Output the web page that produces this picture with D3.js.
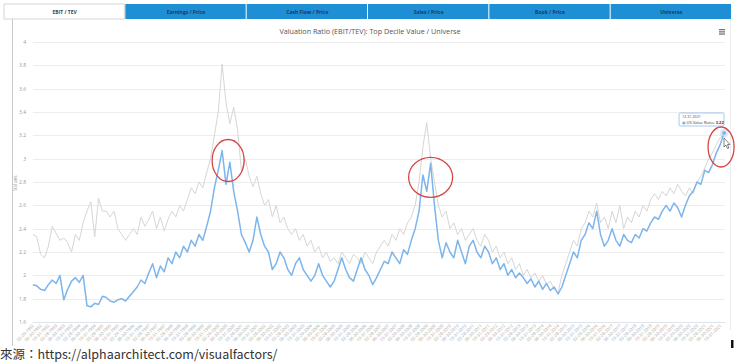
<!DOCTYPE html>
<html>
<head>
<meta charset="utf-8">
<script src="https://cdn.jsdelivr.net/npm/d3@7"></script>
<style>
  body { margin: 0; background: #fff; }
  svg { display: block; font-family: "Open Sans", "DejaVu Sans", sans-serif; }
</style>
</head>
<body>
<figure id="chart" style="margin:0"></figure>
<script>
// tabs across the top of the widget
const tabNames = ["EBIT / TEV", "Earnings / Price", "Cash Flow / Price", "Sales / Price", "Book / Price", "Universe"];

// bimonthly observations, Feb 1992 .. Dec 2021
const firstYear = 1992;
const lastYear = 2021;
const sampleMonths = [2, 4, 6, 8, 10, 12];

// y axis ticks
const yTicks = [1.6, 1.8, 2, 2.2, 2.4, 2.6, 2.8, 3, 3.2, 3.4, 3.6, 3.8, 4];

// top decile value (blue)
const valueRatio = [
  1.92, 1.91, 1.88, 1.87, 1.92, 1.96, 1.93, 2.00, 1.79, 1.88,
  1.95, 1.98, 1.94, 2.00, 1.74, 1.73, 1.76, 1.75, 1.82, 1.81,
  1.78, 1.77, 1.79, 1.80, 1.78, 1.82, 1.86, 1.90, 1.96, 1.93,
  2.02, 2.10, 1.98, 2.08, 2.03, 2.15, 2.10, 2.20, 2.15, 2.25,
  2.20, 2.30, 2.25, 2.35, 2.30, 2.42, 2.55, 2.75, 2.90, 3.07,
  2.78, 2.97, 2.72, 2.55, 2.35, 2.28, 2.20, 2.30, 2.50, 2.35,
  2.25, 2.20, 2.05, 2.10, 2.20, 2.15, 2.05, 2.00, 2.10, 2.15,
  2.05, 2.00, 1.95, 2.00, 2.10, 2.00, 1.95, 1.90, 1.95, 2.05,
  2.15, 2.05, 1.98, 1.95, 2.05, 2.15, 2.05, 2.00, 1.92, 1.98,
  2.05, 2.12, 2.10, 2.20, 2.15, 2.10, 2.22, 2.18, 2.30, 2.40,
  2.55, 2.86, 2.72, 2.96, 2.60, 2.30, 2.15, 2.28, 2.20, 2.15,
  2.30, 2.20, 2.10, 2.25, 2.30, 2.20, 2.15, 2.25, 2.20, 2.10,
  2.15, 2.05, 2.10, 2.00, 2.05, 1.98, 2.02, 1.98, 1.93, 1.97,
  1.90, 1.95, 1.88, 1.93, 1.87, 1.90, 1.84, 1.90, 2.00, 2.10,
  2.20, 2.15, 2.30, 2.35, 2.45, 2.40, 2.55, 2.35, 2.25, 2.30,
  2.40, 2.30, 2.25, 2.35, 2.30, 2.28, 2.35, 2.32, 2.40, 2.38,
  2.45, 2.50, 2.48, 2.55, 2.60, 2.55, 2.62, 2.58, 2.50, 2.60,
  2.68, 2.72, 2.80, 2.78, 2.90, 2.88, 2.95, 3.05, 3.12, 3.22
];

// universe (grey)
const universeRatio = [
  2.35, 2.33, 2.18, 2.15, 2.25, 2.42, 2.36, 2.30, 2.32, 2.28,
  2.20, 2.35, 2.30, 2.45, 2.55, 2.63, 2.33, 2.66, 2.55, 2.55,
  2.50, 2.55, 2.40, 2.35, 2.30, 2.35, 2.40, 2.35, 2.50, 2.42,
  2.48, 2.55, 2.40, 2.50, 2.38, 2.48, 2.55, 2.50, 2.60, 2.55,
  2.65, 2.75, 2.70, 2.80, 2.75, 2.88, 3.00, 3.20, 3.40, 3.81,
  3.48, 3.30, 3.44, 3.25, 2.90, 3.00, 2.85, 2.76, 2.85, 2.70,
  2.60, 2.65, 2.50, 2.60, 2.45, 2.50, 2.40, 2.35, 2.40, 2.30,
  2.35, 2.25, 2.30, 2.20, 2.25, 2.15, 2.20, 2.12, 2.15, 2.10,
  2.20, 2.15, 2.10, 2.18, 2.15, 2.10, 2.20, 2.15, 2.10, 2.20,
  2.25, 2.30, 2.25, 2.35, 2.30, 2.40, 2.35, 2.45, 2.50, 2.60,
  2.80, 3.10, 3.31, 3.00, 2.80, 2.60, 2.50, 2.55, 2.40, 2.45,
  2.35, 2.40, 2.30, 2.35, 2.40, 2.30, 2.25, 2.35, 2.30, 2.20,
  2.25, 2.15, 2.20, 2.10, 2.15, 2.05, 2.10, 2.00, 2.05, 1.98,
  2.02, 1.95, 2.00, 1.92, 1.95, 1.88, 1.85, 2.00, 2.10, 2.20,
  2.30, 2.25, 2.40, 2.45, 2.55, 2.50, 2.62, 2.45, 2.50, 2.40,
  2.55, 2.45, 2.60, 2.40, 2.50, 2.45, 2.55, 2.50, 2.60, 2.55,
  2.65, 2.70, 2.65, 2.72, 2.68, 2.75, 2.70, 2.78, 2.72, 2.68,
  2.75, 2.70, 2.80, 2.85, 2.92, 3.00, 3.05, 3.12, 3.18, 3.20
];

const seriesName = "US Value Ratio";
const chartTitle = "Valuation Ratio (EBIT/TEV): Top Decile Value / Universe";
const sourceText = "來源：https://alphaarchitect.com/visualfactors/";

const width = 740, height = 363;
const plot = { left: 31, right: 726, top: 42, bottom: 322 };

const fmt = d3.timeFormat("%m-%d-%Y");
const dates = [];
for (let y = firstYear; y <= lastYear; y++) {
  sampleMonths.forEach(m => dates.push(fmt(new Date(y, m, 0))));
}

const svg = d3.select("figure#chart")
  .append("svg")
  .attr("width", width)
  .attr("height", height);

// tab bar
const tabX = d3.scaleBand().domain(tabNames).range([4, 732]);
const tabs = svg.append("g");
tabs.selectAll("rect")
  .data(tabNames)
  .enter()
  .append("rect")
  .attr("x", d => tabX(d))
  .attr("y", 4)
  .attr("width", tabX.bandwidth() - 1)
  .attr("height", 15)
  .attr("fill", (d, i) => i == 0 ? "#fff" : "#1e8fd5")
  .attr("stroke", (d, i) => i == 0 ? "#d6d6d6" : "none");
tabs.selectAll("text")
  .data(tabNames)
  .enter()
  .append("text")
  .attr("x", d => tabX(d) + tabX.bandwidth() / 2)
  .attr("y", 13.5)
  .attr("text-anchor", "middle")
  .attr("font-size", 5)
  .attr("font-weight", "bold")
  .attr("fill", (d, i) => i == 0 ? "#444" : "#1b3a63")
  .text(d => d);

// container borders
svg.append("line").attr("x1", 12.5).attr("x2", 12.5).attr("y1", 19).attr("y2", 346)
  .attr("stroke", "#c8c8c8");
svg.append("line").attr("x1", 730.5).attr("x2", 730.5).attr("y1", 19).attr("y2", 330)
  .attr("stroke", "#ececec");

// title + menu icon
svg.append("text")
  .attr("x", 370).attr("y", 33.5)
  .attr("text-anchor", "middle")
  .attr("font-size", 7.2)
  .attr("fill", "#555")
  .text(chartTitle);
const menu = svg.append("g").attr("transform", "translate(719,29)");
[0, 2.2, 4.4].forEach(dy => menu.append("rect")
  .attr("x", 0).attr("y", dy).attr("width", 6).attr("height", 1.3).attr("fill", "#777"));

// scales
const x = d3.scalePoint().domain(dates).range([plot.left, plot.right]).padding(0.5);
const y = d3.scaleLinear().domain([1.6, 4]).range([plot.bottom, plot.top]);

// grid
svg.append("g")
  .selectAll("line")
  .data(yTicks)
  .enter()
  .append("line")
  .attr("x1", plot.left + 2).attr("x2", plot.right - 1)
  .attr("y1", d => Math.round(y(d)) + 0.5).attr("y2", d => Math.round(y(d)) + 0.5)
  .attr("stroke", (d, i) => i == 0 ? "#dfe3ea" : "#ededed");

// y axis labels
const yAxis = svg.append("g")
  .attr("transform", "translate(" + (plot.left - 2) + ",0)")
  .call(d3.axisLeft(y).tickValues(yTicks).tickSize(0).tickFormat(d3.format("~g")));
yAxis.select(".domain").remove();
yAxis.selectAll("text").attr("font-size", 5).attr("fill", "#999").attr("font-family", "Open Sans, sans-serif");

svg.append("text")
  .attr("transform", "translate(17,183) rotate(-90)")
  .attr("text-anchor", "middle")
  .attr("font-size", 5)
  .attr("fill", "#999")
  .text("Values");

// x axis labels, every other category
const xAxis = svg.append("g")
  .attr("transform", "translate(0," + (plot.bottom + 3) + ")")
  .call(d3.axisBottom(x).tickValues(dates.filter((d, i) => i % 2 == 0)).tickSize(0).tickPadding(0));
xAxis.select(".domain").remove();
xAxis.selectAll("text")
  .attr("font-size", 4.3)
  .attr("fill", "#a8a8a8")
  .attr("font-family", "Open Sans, sans-serif")
  .attr("text-anchor", "end")
  .attr("dy", "0.3em")
  .attr("transform", "rotate(-45)");

// lines
const line = d3.line()
  .x((d, i) => x(dates[i]))
  .y(d => y(d));

svg.append("path")
  .datum(universeRatio)
  .attr("d", line)
  .attr("fill", "none")
  .attr("stroke", "#d6d6d6")
  .attr("stroke-width", 1);

svg.append("path")
  .datum(valueRatio)
  .attr("d", line)
  .attr("fill", "none")
  .attr("stroke", "#7cb5ec")
  .attr("stroke-width", 1.5)
  .attr("stroke-linejoin", "round");

// hovered point + tooltip
const lastIdx = valueRatio.length - 1;
const px = x(dates[lastIdx]), py = y(valueRatio[lastIdx]);
svg.append("circle").attr("cx", px).attr("cy", py).attr("r", 4.5)
  .attr("fill", "#7cb5ec").attr("opacity", 0.25);
svg.append("circle").attr("cx", px).attr("cy", py).attr("r", 2.4)
  .attr("fill", "#7cb5ec").attr("stroke", "#fff").attr("stroke-width", 0.6);

const tip = svg.append("g").attr("transform", "translate(679,113)");
tip.append("rect")
  .attr("width", 45).attr("height", 13).attr("rx", 1.5)
  .attr("fill", "#fff").attr("fill-opacity", 0.9)
  .attr("stroke", "#7cb5ec").attr("stroke-width", 0.7);
tip.append("text").attr("x", 3).attr("y", 5)
  .attr("font-size", 3.6).attr("fill", "#444")
  .text(dates[lastIdx]);
const tipLine = tip.append("text").attr("x", 3).attr("y", 10.5)
  .attr("font-size", 4).attr("fill", "#333");
tipLine.append("tspan").attr("fill", "#7cb5ec").text("● ");
tipLine.append("tspan").text(seriesName + ": ");
tipLine.append("tspan").attr("font-weight", "bold").text(d3.format(".2f")(valueRatio[lastIdx]));

// cursor
svg.append("path")
  .attr("d", "M724,138 L724,147 L726,145 L727.5,148.5 L729,148 L727.5,144.5 L730,144.5 Z")
  .attr("fill", "#fff").attr("stroke", "#333").attr("stroke-width", 0.6);

// red highlight circles around the peaks (anchored on the blue peak point)
const peaks = [
  { i: 49, dx: 6, dy: 10, rx: 16, ry: 21 },
  { i: 103, dx: 0, dy: 14, rx: 22, ry: 20 },
  { i: 179, dx: -3, dy: 14, rx: 13, ry: 20 }
];
svg.append("g")
  .selectAll("ellipse")
  .data(peaks)
  .enter()
  .append("ellipse")
  .attr("cx", d => x(dates[d.i]) + d.dx)
  .attr("cy", d => y(valueRatio[d.i]) + d.dy)
  .attr("rx", d => d.rx)
  .attr("ry", d => d.ry)
  .attr("fill", "none")
  .attr("stroke", "#d64545")
  .attr("stroke-width", 1.3);

// small black mark at bottom right of the screenshot
svg.append("rect").attr("x", 731).attr("y", 340).attr("width", 2.5).attr("height", 8).attr("fill", "#111");

// source caption
svg.append("text")
  .attr("x", 0).attr("y", 359)
  .attr("font-size", 12.5)
  .attr("fill", "#333")
  .attr("font-family", "Noto Sans CJK TC, Noto Sans, sans-serif")
  .text(sourceText);
</script>
</body>
</html>
